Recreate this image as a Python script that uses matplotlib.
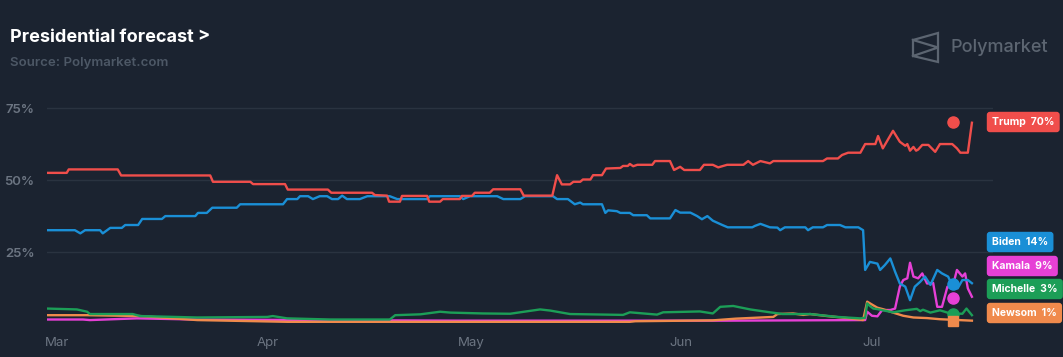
import matplotlib
matplotlib.use("Agg")
import matplotlib.pyplot as plt
from matplotlib.lines import Line2D

plt.rcParams['font.family'] = ['Inter', 'DejaVu Sans']

# days since Mar 1 / probability in %
trump_x = [0, 2.9, 3.2, 10.4, 10.9, 24.0, 24.4, 29.9, 30.3, 35.0, 35.4, 41.3, 41.8, 47.8, 48.2,
           50.0, 50.3, 51.9, 52.2, 55.9, 56.2, 57.8, 58.2, 60.7, 61.0, 62.5, 62.9, 65.1, 65.6,
           69.6, 70.1, 74.3, 75.0, 75.7, 76.9, 77.4, 78.4, 78.8, 79.9, 80.3, 81.6, 82.2, 84.3,
           84.7, 85.4, 85.7, 86.2, 86.8, 89.0, 89.4, 91.6, 92.2, 93.1, 93.7, 96.0, 96.6, 97.9,
           98.7, 100.0, 102.4, 103.1, 103.8, 104.9, 106.3, 106.8, 114.1, 114.7, 116.3, 116.9,
           117.8, 118.8, 119.6, 120.3, 121.8, 122.2, 122.9, 124.4, 125.4, 126.2, 126.5, 126.9,
           127.4, 127.8, 128.1, 128.7, 129.6, 130.6, 131.3, 133.1, 133.8, 134.3, 135.4, 136.0]
trump_y = [52.5, 52.5, 53.7, 53.7, 51.6, 51.6, 49.4, 49.4, 48.6, 48.6, 46.7, 46.7, 45.6, 45.6, 44.8,
           44.6, 42.5, 42.5, 44.5, 44.5, 42.5, 42.5, 43.4, 43.4, 44.5, 44.5, 45.6, 45.6, 46.8,
           46.8, 44.6, 44.6, 51.7, 48.5, 48.5, 49.4, 49.4, 50.2, 50.2, 51.7, 51.7, 54.0, 54.2,
           54.9, 54.9, 55.6, 54.8, 55.3, 55.3, 56.6, 56.6, 53.5, 54.6, 53.5, 53.5, 55.3, 55.3,
           54.4, 55.3, 55.3, 56.6, 55.3, 56.6, 55.8, 56.6, 56.6, 57.5, 57.5, 58.7,
           59.5, 59.5, 59.5, 62.5, 62.5, 65.3, 61.0, 67.1, 63.3, 61.9, 62.5, 60.2,
           61.5, 60.2, 60.6, 62.2, 62.2, 59.8, 62.5, 62.5, 61.0, 59.5, 59.5, 69.9]

biden_x = [0, 4.1, 4.9, 5.6, 7.8, 8.2, 9.3, 11.0, 11.5, 13.4, 14.0, 16.9, 17.4, 21.8, 22.2, 23.5,
           24.3, 27.9, 28.4, 34.7, 35.3, 36.8, 37.2, 38.4, 39.1, 40.1, 41.2, 41.9, 42.8, 43.4,
           44.1, 46.0, 47.1, 50.4, 51.5, 55.9, 56.3, 60.7, 61.2, 62.2, 66.2, 67.1, 69.6, 70.3,
           74.4, 75.0, 76.6, 77.6, 78.4, 78.8, 81.6, 82.1, 82.5, 83.8, 84.3, 85.7, 86.2, 88.2,
           88.7, 91.6, 92.4, 93.1, 94.6, 95.6, 96.3, 97.1, 97.9, 99.3, 100.1, 103.7, 104.1,
           104.9, 106.3, 107.4, 107.8, 108.5, 111.5, 111.9, 112.6, 114.1, 114.7, 116.6, 117.4,
           119.3, 120.0, 120.3, 121.0, 122.1, 122.5, 123.2, 124.0, 124.7, 125.4, 126.2, 126.9,
           127.6, 128.4, 129.1, 129.9, 130.9, 131.6, 132.5, 133.2, 133.9, 134.6, 135.4, 136.0]
biden_y = [32.6, 32.6, 31.5, 32.6, 32.6, 31.5, 33.4, 33.4, 34.4, 34.4, 36.5, 36.5, 37.5, 37.5, 38.6, 38.6,
           40.4, 40.4, 41.6, 41.6, 43.4, 43.4, 44.4, 44.4, 43.4, 44.4, 44.4, 43.4, 43.4, 44.6,
           43.4, 43.4, 44.4, 44.4, 43.4, 43.4, 44.4, 44.4, 43.4, 44.4, 44.4, 43.4, 43.4, 44.4,
           44.4, 43.4, 43.4, 41.6, 42.2, 41.6, 41.6, 38.6, 39.5, 39.2, 38.6, 38.6, 37.8, 37.8,
           36.7, 36.7, 39.6, 38.7, 38.7, 37.5, 36.4, 37.5, 35.9, 34.4, 33.6, 33.6, 34.1,
           34.8, 33.6, 33.5, 32.6, 33.6, 33.6, 32.6, 33.6, 33.6, 34.4, 34.4, 33.6,
           33.6, 32.6, 18.8, 21.6, 21.0, 18.8, 20.5, 22.8, 18.2, 14.1, 13.0, 8.3,
           13.0, 14.7, 16.5, 13.6, 18.8, 17.6, 16.5, 13.0, 12.4, 15.3, 15.3, 14.2]

kamala_x = [0, 5.3, 6.3, 13.2, 22.0, 40.0, 60.0, 100.0, 120.0, 120.3, 120.6, 121.3, 122.1, 122.8,
            124.0, 124.7, 125.4, 125.9, 126.5, 126.9, 127.4, 128.1, 128.7, 129.4, 130.3, 130.9,
            131.6, 132.4, 133.1, 133.8, 134.6, 135.0, 135.4, 136.0]
kamala_y = [1.6, 1.6, 1.4, 2.0, 1.6, 1.4, 1.2, 1.2, 1.4, 1.4, 4.3, 2.9, 2.7, 4.9,
            4.9, 5.4, 13.0, 15.3, 15.9, 21.3, 16.5, 15.9, 17.6, 14.1, 14.3, 6.0,
            6.0, 13.0, 12.4, 18.8, 16.5, 17.6, 12.4, 9.5]

michelle_x = [0, 4.4, 5.9, 6.3, 12.6, 13.7, 22.1, 32.4, 33.2, 35.3, 41.6, 50.4, 51.2, 54.9, 57.8,
              59.3, 64.1, 68.1, 72.5, 74.0, 76.9, 84.7, 85.7, 89.7, 90.6, 96.0, 97.9, 99.0, 100.9,
              103.4, 106.3, 108.2, 112.2, 116.2, 119.6, 120.3, 120.6, 121.0, 121.5, 122.1, 122.9,
              124.4, 126.2, 127.9, 128.4, 128.8, 129.9, 131.3, 132.8, 134.6, 135.2, 136.0]
michelle_y = [5.4, 5.1, 4.3, 3.5, 3.5, 2.8, 2.3, 2.5, 2.8, 2.0, 1.6, 1.6, 3.1, 3.4, 4.3,
              4.0, 3.7, 3.6, 5.1, 4.7, 3.5, 3.2, 4.1, 3.3, 4.1, 4.4, 3.7, 6.0, 6.3,
              5.1, 4.1, 3.5, 3.5, 2.5, 2.0, 2.2, 7.2, 6.3, 5.4, 5.2, 4.8,
              4.1, 4.8, 5.3, 4.5, 5.0, 4.0, 4.8, 3.7, 3.6, 5.4, 3.1]

newsom_x = [0, 5.9, 13.7, 22.1, 35.3, 85.7, 86.5, 97.9, 101.3, 106.8, 107.4, 109.7, 111.2, 112.2,
            114.7, 118.1, 120.0, 120.6, 121.3, 122.1, 122.9, 124.4, 125.9, 127.4, 129.4, 131.3, 136.0]
newsom_y = [3.1, 3.1, 2.8, 1.4, 0.8, 0.8, 1.0, 1.3, 1.9, 2.5, 3.5, 3.7, 3.2, 3.5,
            2.8, 2.0, 1.4, 7.8, 6.8, 5.7, 5.2, 4.0, 2.9, 2.3, 2.1, 1.7, 1.2]

names = ['Trump', 'Biden', 'Kamala', 'Michelle', 'Newsom']
current = [70, 14, 9, 3, 1]
dot_y = [70, 14, 9, 3.5, 1]
colors = ['#f04e4b', '#1a8fd6', '#e640d6', '#1c9e57', '#f08a4c']
series_x = [trump_x, biden_x, kamala_x, michelle_x, newsom_x]
series_y = [trump_y, biden_y, kamala_y, michelle_y, newsom_y]

month_labels = ['Mar', 'Apr', 'May', 'Jun', 'Jul']
month_pos = [1.5, 32.4, 62.4, 93.2, 121.3]
dot_day = 133.2

bg = '#1b2330'
W, H = 1063, 357
fig = plt.figure(figsize=(W / 100, H / 100), dpi=100, facecolor=bg)
ax = fig.add_axes([47 / W, (H - 327) / H, (993 - 47) / W, (327 - 99.4) / H])
ax.set_facecolor(bg)
ax.set_xlim(0, 139.1)
ax.set_ylim(-1, 78)

for v in [25, 50, 75]:
    ax.axhline(v, color='#2a3340', lw=1, zorder=0)

# back to front: Kamala, Newsom, Michelle, Biden, Trump
order = [2, 4, 3, 1, 0]
for z, i in enumerate(order):
    ax.plot(series_x[i], series_y[i], color=colors[i], lw=1.7, solid_joinstyle='round', zorder=2 + z * 0.1)
for i in range(5):
    mk = 's' if names[i] == 'Newsom' else 'o'
    ax.plot(dot_day, dot_y[i], marker=mk, ms=8 if mk == 'o' else 7, color=colors[i], zorder=5)

ax.set_yticks([25, 50, 75])
ax.set_yticklabels(['25%', '50%', '75%'])
ax.set_xticks(month_pos)
ax.set_xticklabels(month_labels)
ax.tick_params(axis='y', length=0, pad=9, labelcolor='#6c7582', labelsize=9.5)
ax.tick_params(axis='x', length=0, pad=7, labelcolor='#6c7582', labelsize=9.5)
for lab in ax.get_yticklabels():
    lab.set_fontweight('semibold')
for s in ax.spines.values():
    s.set_visible(False)

# value tags on the right
tag_y = [122, 242, 266, 289, 313]
for i in range(5):
    fig.text(992 / W, 1 - tag_y[i] / H, f"{names[i]}  {current[i]}%", color='white',
             fontsize=7.5, fontweight='bold', ha='left', va='center',
             bbox=dict(boxstyle='round,pad=0.5,rounding_size=0.3', fc=colors[i], ec='none'))

fig.text(10 / W, 1 - 37 / H, "Presidential forecast", color='white', fontsize=13,
         fontweight='bold', ha='left', va='center')
fig.text(197 / W, 1 - 36 / H, ">", color='white', fontsize=13,
         fontweight='bold', ha='left', va='center')
fig.text(10 / W, 1 - 63 / H, "Source: Polymarket.com", color='#4d5866', fontsize=9.5,
         fontweight='semibold', ha='left', va='center')

# polymarket logo
logo_c = '#5c6571'
lx = [913, 938, 938, 913, 913, 938, 913]
ly = [40, 33, 62, 56, 40, 47.5, 56]
fig.add_artist(Line2D([x / W for x in lx], [1 - y / H for y in ly], color=logo_c, lw=1.6,
                      transform=fig.transFigure, solid_joinstyle='miter'))
fig.text(950 / W, 1 - 48 / H, "Polymarket", color=logo_c, fontsize=13, fontweight='medium',
         ha='left', va='center')

fig.savefig('out.png', dpi=100, facecolor=bg)
